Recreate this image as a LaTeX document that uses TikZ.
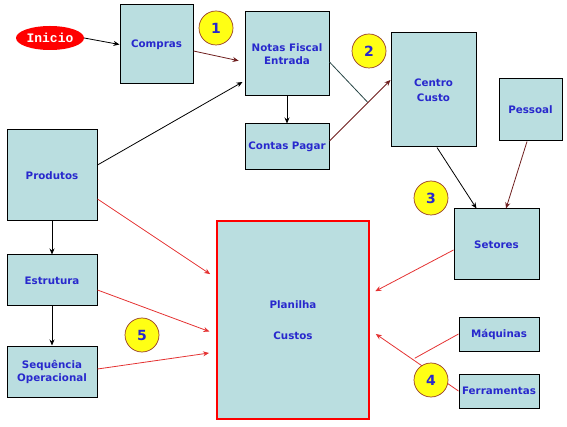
\documentclass[tikz,border=0pt]{standalone}
\usepackage{fontspec}
\setmainfont{DejaVu Sans}
\newfontfamily\inifont{Liberation Mono}
\usetikzlibrary{shapes.geometric,arrows.meta,calc}
\definecolor{boxfill}{RGB}{186,222,224}
\definecolor{txtblue}{RGB}{40,40,205}
\definecolor{lred}{RGB}{228,50,50}
\definecolor{dred}{RGB}{110,30,30}
\definecolor{dteal}{RGB}{40,70,70}
\definecolor{circfill}{RGB}{255,255,20}
\definecolor{circline}{RGB}{150,60,40}
\tikzset{
  boxnode/.style={draw=black, line width=1pt, fill=boxfill, inner sep=0pt,
    text=txtblue, font=\fontsize{10.3}{13}\selectfont\bfseries, align=center},
  numcirc/.style={circle, draw=circline, line width=0.7pt, fill=circfill,
    minimum size=34pt, inner sep=0pt, text=txtblue, font=\fontsize{14}{16}\selectfont\bfseries},
  conn/.style={line width=0.8pt, -{Stealth[length=6pt,width=5pt]}},
  plainline/.style={line width=0.8pt},
}
\begin{document}
\begin{tikzpicture}[x=1pt,y=-1pt]
\useasboundingbox (0,0) rectangle (567,427);
% nodes
\node[ellipse, fill=red, minimum width=68pt, minimum height=24pt, inner sep=0pt,
  text=white, font=\inifont\fontsize{13}{13}\selectfont\bfseries] (inicio) at (50,38) {Inicio};
\node[boxnode, minimum width=73pt, minimum height=79pt] (compras) at (156.5,44.5) {Compras};
\node[boxnode, minimum width=84pt, minimum height=84pt] (notas) at (287,54) {Notas Fiscal\\Entrada};
\node[boxnode, minimum width=84pt, minimum height=46pt] (contas) at (287,147) {Contas Pagar};
\node[boxnode, minimum width=85pt, minimum height=114pt] (centro) at (433.5,90) {Centro\\[2pt]Custo};
\node[boxnode, minimum width=63pt, minimum height=62pt] (pessoal) at (530.5,110) {Pessoal};
\node[boxnode, minimum width=85pt, minimum height=71pt] (setores) at (496.5,244.5) {Setores};
\node[boxnode, minimum width=80pt, minimum height=34pt] (maquinas) at (499,334) {Máquinas};
\node[boxnode, minimum width=80pt, minimum height=34pt] (ferramentas) at (499,391) {Ferramentas};
\node[boxnode, draw=red, line width=2pt, minimum width=152pt, minimum height=198pt] (planilha) at (293,320) {Planilha\\[18pt]Custos};
\node[boxnode, minimum width=90pt, minimum height=91pt] (produtos) at (52,175.5) {Produtos};
\node[boxnode, minimum width=90pt, minimum height=51pt] (estrutura) at (52,280.5) {Estrutura};
\node[boxnode, minimum width=90pt, minimum height=51pt] (sequencia) at (52,371.5) {Sequência\\Operacional};
% connectors
\draw[conn] (inicio.east) -- (compras.west);
\draw[conn, draw=dred, shorten >=6pt] ([yshift=-6.5pt]compras.east) -- ([yshift=-8pt]notas.west);
\draw[conn] ([yshift=10.5pt]produtos.east) -- ([yshift=-28pt,xshift=-2pt]notas.west);
\draw[conn] (notas.south) -- (contas.north);
\draw[conn] (produtos.south) -- (estrutura.north);
\draw[conn] (estrutura.south) -- (sequencia.north);
\coordinate (ca) at ([yshift=6pt]contas.east);
\coordinate (cb) at ([yshift=10pt]centro.west);
\coordinate (jn) at ($(ca)!0.63!(cb)$);
\draw[plainline, draw=dteal] ([yshift=-8pt]notas.east) -- (jn);
\draw[conn, draw=dred] (ca) -- (cb);
\draw[conn] ([xshift=3.5pt]centro.south) -- ([xshift=-20pt]setores.north);
\draw[conn, draw=dred] ([xshift=-3.5pt]pessoal.south) -- ([xshift=9.5pt]setores.north);
\draw[conn, draw=lred, shorten >=7pt] ([yshift=-23.5pt]produtos.east) -- ([yshift=42pt]planilha.west);
\draw[conn, draw=lred, shorten >=7pt] ([yshift=-9.5pt]estrutura.east) -- ([yshift=-14pt]planilha.west);
\draw[conn, draw=lred, shorten >=7pt] ([yshift=2.5pt]sequencia.east) -- ([yshift=-32pt]planilha.west);
\draw[conn, draw=lred, shorten >=6pt] ([yshift=-5.5pt]setores.west) -- ([yshift=26pt]planilha.east);
\draw[conn, draw=lred, shorten >=7pt] (ferramentas.west) -- ([yshift=-10pt]planilha.east);
\coordinate (fa) at (ferramentas.west);
\coordinate (fb) at ([yshift=-10pt,xshift=7pt]planilha.east);
\coordinate (jm) at ($(fa)!0.537!(fb)$);
\draw[plainline, draw=lred] (maquinas.west) -- (jm);
% numbered circles
\node[numcirc] (n1) at (216,28) {1};
\node[numcirc] (n2) at (369,51) {2};
\node[numcirc] (n3) at (431,198) {3};
\node[numcirc] (n4) at (431,380) {4};
\node[numcirc] (n5) at (142,335) {5};
\end{tikzpicture}
\end{document}
